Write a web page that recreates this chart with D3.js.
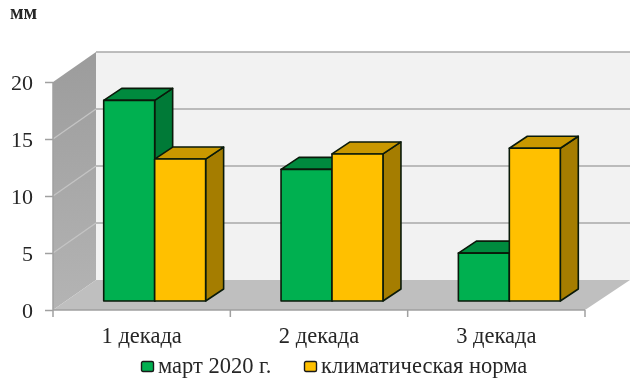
<!DOCTYPE html>
<html>
<head>
<meta charset="utf-8">
<script src="https://d3js.org/d3.v7.min.js"></script>
<style>
  html, body { margin: 0; padding: 0; background: #fff; }
  svg { display: block; filter: blur(0.55px); }
  text { font-family: "Liberation Serif", serif; fill: #262626; }
</style>
</head>
<body>
<svg width="634" height="384"></svg>
<script>
const categories = ["1 декада", "2 декада", "3 декада"];
const seriesNames = ["март 2020 г.", "климатическая норма"];
const march2020 = [17.6, 11.55, 4.2];
const climateNorm = [12.45, 12.9, 13.4];
const yTicks = [0, 5, 10, 15, 20];
const unitLabel = "мм";

const seriesValues = [march2020, climateNorm];
const colors = [
    {front: "#00b050", top: "#008a3e", side: "#007a37"},
    {front: "#ffc000", top: "#c99800", side: "#a57d00"}
];

const svg = d3.select("svg");

const area = {left: 53, right: 585, bottom: 310, top: 82, depthX: 43, depthY: 30};
const barDepth = {x: 18, y: 12};
const barShift = {x: 13, y: 9};

const scaleX = d3.scaleBand()
                 .domain(categories)
                 .range([area.left, area.right]);

const scaleY = d3.scaleLinear()
                 .domain([0, 20])
                 .range([area.bottom, area.top]);

const scaleSeries = d3.scaleBand()
                      .domain(d3.range(seriesNames.length))
                      .range([barShift.x, scaleX.step() + barShift.x])
                      .paddingInner(0)
                      .paddingOuter(0.74);

const poly = (pts) => pts.map(p => p.join(",")).join(" ");

const defs = svg.append("defs");
const wallGrad = defs.append("linearGradient")
                     .attr("id", "wallGrad")
                     .attr("x1", 0).attr("y1", 0)
                     .attr("x2", 0).attr("y2", 1);
wallGrad.append("stop").attr("offset", "0%").attr("stop-color", "#9c9c9c");
wallGrad.append("stop").attr("offset", "100%").attr("stop-color", "#b4b4b4");

const drawWalls = () => {
    const dx = area.depthX, dy = area.depthY;
    const y0 = scaleY(0), y20 = scaleY(20);

    svg.append("polygon")
       .attr("points", poly([[area.left + dx, y20 - dy], [area.right + dx + 2, y20 - dy], [area.right + dx + 2, y0 - dy], [area.left + dx, y0 - dy]]))
       .attr("fill", "#f2f2f2");

    svg.append("polygon")
       .attr("points", poly([[area.left, y20], [area.left + dx, y20 - dy], [area.left + dx, y0 - dy], [area.left, y0]]))
       .attr("fill", "url(#wallGrad)");

    svg.append("polygon")
       .attr("points", poly([[area.left, y0], [area.right, y0], [area.right + dx + 2, y0 - dy], [area.left + dx, y0 - dy]]))
       .attr("fill", "#bfbfbf");

    // grid on the back wall
    svg.selectAll(".grid")
       .data(yTicks.filter(d => d > 0))
       .enter()
       .append("line")
       .attr("x1", area.left + dx).attr("x2", area.right + dx + 2)
       .attr("y1", d => scaleY(d) - dy).attr("y2", d => scaleY(d) - dy)
       .attr("stroke", "#a8a8a8")
       .attr("stroke-width", 1.6);

    // same grid going down the side wall, lighter there
    svg.selectAll(".gridSide")
       .data(yTicks.filter(d => d > 0 && d < 20))
       .enter()
       .append("line")
       .attr("x1", area.left).attr("x2", area.left + dx)
       .attr("y1", d => scaleY(d)).attr("y2", d => scaleY(d) - dy)
       .attr("stroke", "#c4c4c4")
       .attr("stroke-width", 1.4);

    svg.append("path")
       .attr("d", `M${area.left},${y20} L${area.left},${y0} L${area.right},${y0}`)
       .attr("fill", "none")
       .attr("stroke", "#a0a0a0")
       .attr("stroke-width", 1.5);
}

const drawAxes = () => {
    const axisY = d3.axisLeft(scaleY)
                    .tickValues(yTicks)
                    .tickSize(8)
                    .tickPadding(12);

    const gY = svg.append("g")
                  .attr("transform", `translate(${area.left},0)`)
                  .call(axisY);
    gY.select(".domain").remove();
    gY.selectAll("line").attr("stroke", "#a0a0a0").attr("stroke-width", 1.5);
    gY.selectAll("text")
      .style("font-family", "Liberation Serif")
      .style("font-size", "22px")
      .attr("fill", "#262626")
      .attr("dy", "0.33em");

    const axisX = d3.axisBottom(scaleX)
                    .tickSize(0)
                    .tickPadding(0);

    const gX = svg.append("g")
                  .attr("transform", `translate(0,${area.bottom})`)
                  .call(axisX);
    gX.select(".domain").remove();
    gX.selectAll("text")
      .style("font-family", "Liberation Serif")
      .style("font-size", "22.5px")
      .attr("fill", "#262626")
      .attr("y", 33)
      .attr("dy", 0);

    // ticks between the groups, the band axis only gives centres
    const edges = categories.map(d => scaleX(d)).concat(area.right);
    svg.selectAll(".tickX")
       .data(edges)
       .enter()
       .append("line")
       .attr("x1", d => d).attr("x2", d => d)
       .attr("y1", area.bottom).attr("y2", area.bottom + 7)
       .attr("stroke", "#a0a0a0")
       .attr("stroke-width", 1.5);

    svg.append("text")
       .attr("x", 10).attr("y", 19)
       .style("font-size", "20px")
       .style("font-weight", "bold")
       .text(unitLabel);
}

const drawBars = () => {
    categories.forEach((cat, i) => {
        seriesValues.forEach((values, s) => {
            const x0 = scaleX(cat) + scaleSeries(s);
            const x1 = x0 + scaleSeries.bandwidth();
            const yb = scaleY(0) - barShift.y;
            const yt = scaleY(values[i]) - barShift.y;
            const dx = barDepth.x, dy = barDepth.y;
            const g = svg.append("g")
                         .attr("stroke", "#0a1a0a")
                         .attr("stroke-width", 1.6)
                         .attr("stroke-linejoin", "round");

            g.append("polygon")
             .attr("points", poly([[x1, yb], [x1 + dx, yb - dy], [x1 + dx, yt - dy], [x1, yt]]))
             .attr("fill", colors[s].side);
            g.append("polygon")
             .attr("points", poly([[x0, yt], [x1, yt], [x1 + dx, yt - dy], [x0 + dx, yt - dy]]))
             .attr("fill", colors[s].top);
            g.append("rect")
             .attr("x", x0).attr("y", yt)
             .attr("width", x1 - x0).attr("height", yb - yt)
             .attr("fill", colors[s].front);
        });
    });
}

const drawLegend = () => {
    const startX = [141, 304];
    const g = svg.selectAll(".legend")
                 .data(seriesNames)
                 .enter()
                 .append("g")
                 .attr("transform", (d, i) => `translate(${startX[i]},361)`);

    g.append("rect")
     .attr("x", 0.5).attr("y", 0.5)
     .attr("width", 12).attr("height", 10)
     .attr("rx", 1.5)
     .attr("fill", (d, i) => colors[i].front)
     .attr("stroke", "#1a1a1a")
     .attr("stroke-width", 1.4);

    g.append("text")
     .attr("x", 17).attr("y", 12)
     .style("font-size", "22.5px")
     .text(d => d);
}

drawWalls();
drawAxes();
drawBars();
drawLegend();
</script>
</body>
</html>
